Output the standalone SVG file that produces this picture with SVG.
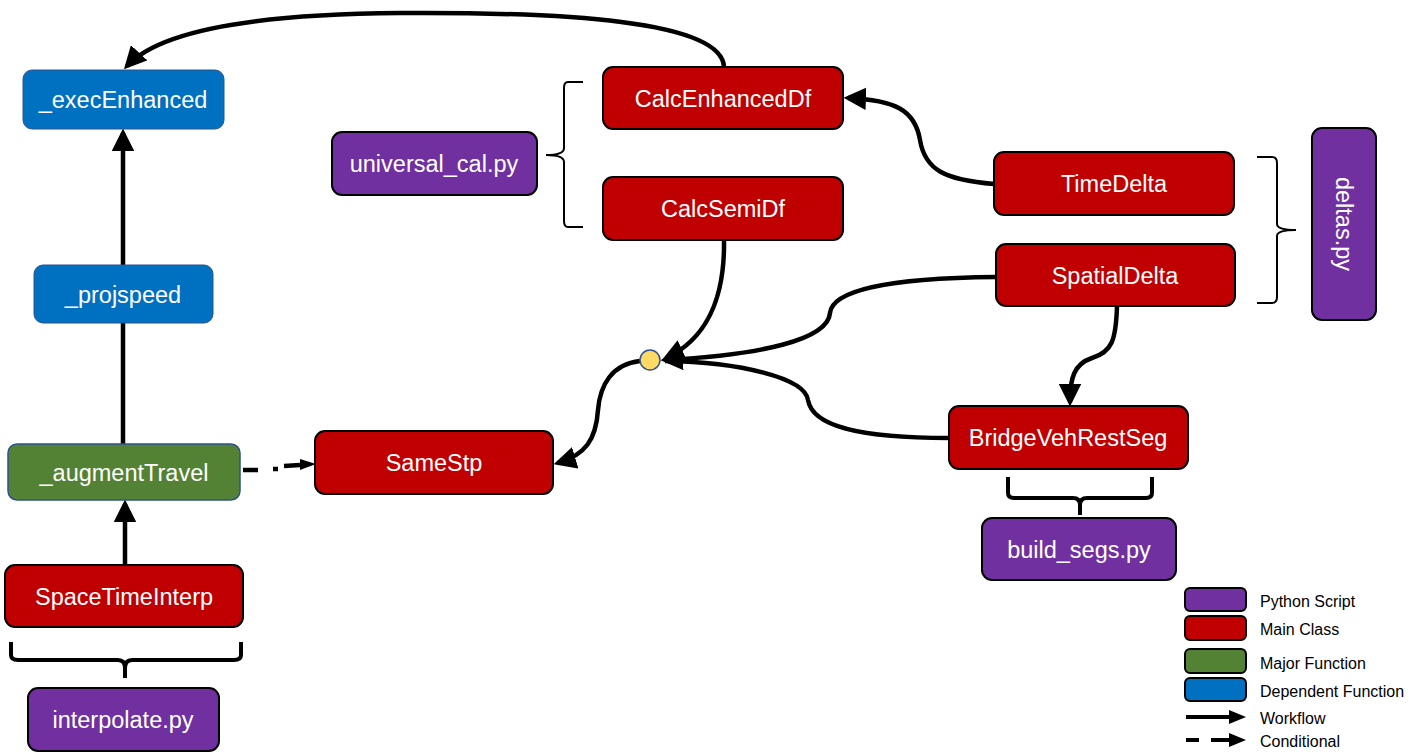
<svg xmlns="http://www.w3.org/2000/svg" width="1409" height="754" viewBox="0 0 1409 754">
<defs>
<marker id="ah" markerWidth="5" markerHeight="5" refX="4" refY="2.5" orient="auto" markerUnits="strokeWidth">
<path d="M0,0 L5,2.5 L0,5 Z" fill="#000"/>
</marker>
<style>
.py{fill:#7030A0;stroke:#000;stroke-width:2}
.mc{fill:#C00000;stroke:#000;stroke-width:2}
.mf{fill:#548235;stroke:#2F528F;stroke-width:1.5}
.df{fill:#0070C0;stroke:#2F528F;stroke-width:1}
.t{font-family:"Liberation Sans",Arial,sans-serif;font-size:23.5px;fill:#fff;text-anchor:middle;dominant-baseline:central}
.lg{font-family:"Liberation Sans",Arial,sans-serif;font-size:16px;fill:#000;dominant-baseline:central}
.c{fill:none;stroke:#000;stroke-width:4.5}
.br{fill:none;stroke:#000;stroke-width:2}
.brt{fill:none;stroke:#000;stroke-width:4}
</style>
</defs>
<rect width="1409" height="754" fill="#fff"/>
<g id="connectors">
<path class="c" d="M724,67 C722,20 560,12 400,13 C260,14 160,30 127,66" marker-end="url(#ah)"/>
<path class="c" d="M123,265 L123,133" marker-end="url(#ah)"/>
<path class="c" d="M123,444 L123,323"/>
<path class="c" d="M125,565 L125,504" marker-end="url(#ah)"/>
<path class="c" d="M243,470 L258,470" />
<path class="c" d="M273,469 L278,469" />
<path class="c" d="M284,466 L300,465" />
<path d="M300,459 L316,464 L300,470 Z" fill="#000"/>
<path class="c" d="M994,184 C945,180 925,170 920,140 C915,110 895,100 848,98" marker-end="url(#ah)"/>
<path class="c" d="M724,240 C725,300 705,340 666,358" marker-end="url(#ah)"/>
<path class="c" d="M996,277 C880,278 832,292 830,313 C828,340 760,355 665,360" marker-end="url(#ah)"/>
<path class="c" d="M949,438 C855,438 812,425 808,400 C805,378 740,362 665,361"/>
<path class="c" d="M640,361 C612,364 600,385 598,410 C596,440 585,455 558,463" marker-end="url(#ah)"/>
<path class="c" d="M1117,306 C1116,340 1112,352 1092,358 C1074,364 1070,378 1070,402" marker-end="url(#ah)"/>
</g>
<g id="braces">
<path class="br" d="M583,82 L568,82 Q564,82 564,88 L564,148 Q564,155 546,155 Q564,155 564,162 L564,221 Q564,227 568,227 L583,227"/>
<path class="br" d="M1257,157 L1272,157 Q1277,157 1277,163 L1277,224 Q1277,230 1296,230 Q1277,230 1277,236 L1277,297 Q1277,303 1272,303 L1257,303"/>
<path class="brt" d="M11,642 L11,655 Q11,660 18,660 L118,660 Q125,660 125,668 L125,678 M125,668 Q125,660 132,660 L234,660 Q241,660 241,655 L241,642"/>
<path class="brt" d="M1008,477 L1008,493 Q1008,498 1014,498 L1073,498 Q1080,498 1080,505 L1080,515 M1080,505 Q1080,498 1087,498 L1146,498 Q1152,498 1152,493 L1152,477"/>
</g>
<g id="execEnhanced"><rect class="df" x="23" y="70" width="201" height="59" rx="9"/><text class="t" x="123" y="100">_execEnhanced</text></g>
<g id="projspeed"><rect class="df" x="34" y="265" width="179" height="58" rx="9"/><text class="t" x="123" y="295">_projspeed</text></g>
<g id="augmentTravel"><rect class="mf" x="8" y="444" width="232" height="56" rx="9"/><text class="t" x="124" y="473">_augmentTravel</text></g>
<g id="SpaceTimeInterp"><rect class="mc" x="5" y="565" width="238" height="62" rx="10"/><text class="t" x="124" y="597">SpaceTimeInterp</text></g>
<g id="interpolate"><rect class="py" x="28" y="688" width="191" height="63" rx="10"/><text class="t" x="123" y="720">interpolate.py</text></g>
<g id="universal_cal"><rect class="py" x="332" y="132" width="205" height="63" rx="10"/><text class="t" x="434" y="164">universal_cal.py</text></g>
<g id="CalcEnhancedDf"><rect class="mc" x="603" y="67" width="240" height="62" rx="10"/><text class="t" x="723" y="99">CalcEnhancedDf</text></g>
<g id="CalcSemiDf"><rect class="mc" x="603" y="177" width="240" height="63" rx="10"/><text class="t" x="723" y="209">CalcSemiDf</text></g>
<g id="TimeDelta"><rect class="mc" x="994" y="152" width="240" height="63" rx="10"/><text class="t" x="1114" y="184">TimeDelta</text></g>
<g id="SpatialDelta"><rect class="mc" x="996" y="244" width="239" height="62" rx="10"/><text class="t" x="1115" y="276">SpatialDelta</text></g>
<g id="deltas"><rect class="py" x="1312" y="128" width="64" height="192" rx="10"/><text class="t" transform="translate(1344,224) rotate(90)" x="0" y="0">deltas.py</text></g>
<g id="junction"><circle cx="650" cy="360" r="10" fill="#FFD966" stroke="#2F528F" stroke-width="1.5"/></g>
<g id="SameStp"><rect class="mc" x="315" y="431" width="238" height="63" rx="10"/><text class="t" x="434" y="463">SameStp</text></g>
<g id="BridgeVehRestSeg"><rect class="mc" x="949" y="406" width="239" height="63" rx="10"/><text class="t" x="1068" y="438">BridgeVehRestSeg</text></g>
<g id="build_segs"><rect class="py" x="982" y="518" width="194" height="62" rx="10"/><text class="t" x="1079" y="550">build_segs.py</text></g>
<g id="legend">
<rect class="py" x="1185" y="588" width="61" height="23" rx="5"/>
<rect class="mc" x="1185" y="616" width="61" height="24" rx="5"/>
<rect x="1185" y="649" width="61" height="24" rx="5" fill="#548235" stroke="#000" stroke-width="2"/>
<rect x="1185" y="678" width="61" height="23" rx="5" fill="#0070C0" stroke="#000" stroke-width="2"/>
<path d="M1186,717 L1230,717" stroke="#000" stroke-width="4"/>
<path d="M1229,710 L1246,717 L1229,724 Z" fill="#000"/>
<path d="M1186,740 L1199,740 M1211,740 L1230,740" stroke="#000" stroke-width="4"/>
<path d="M1229,733 L1246,740 L1229,747 Z" fill="#000"/>
<text class="lg" x="1260" y="601">Python Script</text>
<text class="lg" x="1260" y="629">Main Class</text>
<text class="lg" x="1260" y="663">Major Function</text>
<text class="lg" x="1260" y="691">Dependent Function</text>
<text class="lg" x="1260" y="718">Workflow</text>
<text class="lg" x="1260" y="741">Conditional</text>
</g>
</svg>
